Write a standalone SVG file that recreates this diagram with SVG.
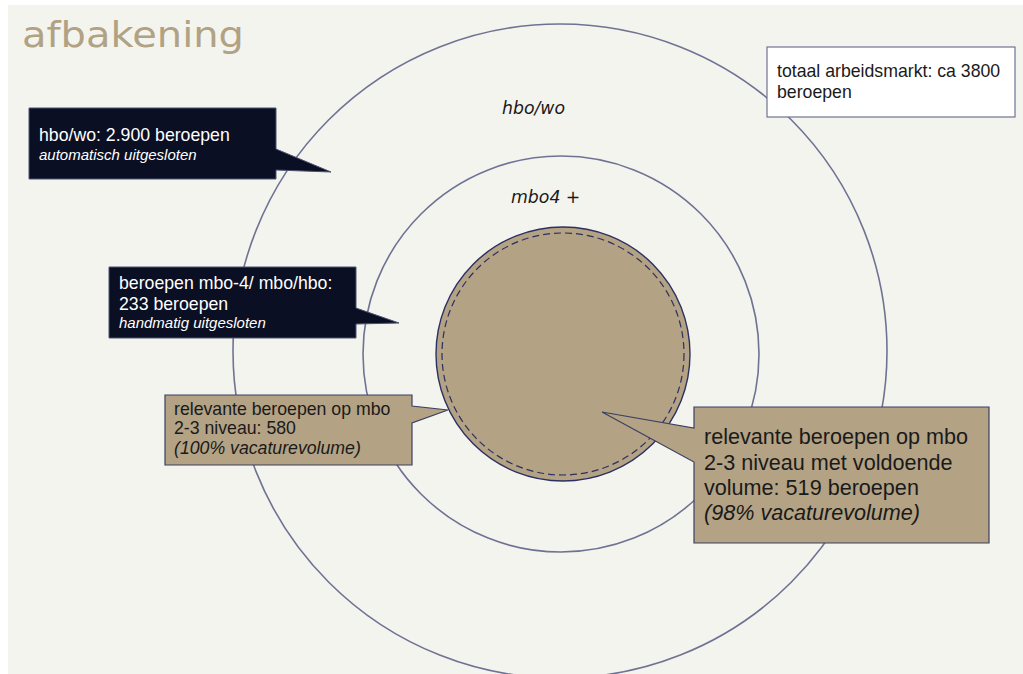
<svg xmlns="http://www.w3.org/2000/svg" width="1023" height="674" viewBox="0 0 1023 674">
  <style>
    .ring { fill: none; stroke: #6f7393; stroke-width: 1.6; }
    .dark { fill: #0b0f24; stroke: #4c5272; stroke-width: 1; }
    .tan { fill: #b3a284; stroke: #3b3f62; stroke-width: 1.2; }
    .note { fill: #ffffff; stroke: #6f7393; stroke-width: 1.2; }
    .t { font-family: "Liberation Sans", Arial, sans-serif; font-size: 17.7px; }
    .sm { font-size: 15px; }
    .lg { font-size: 21.6px; }
    .w { fill: #ffffff; }
    .k { fill: #1a1a1a; }
    .i { font-style: italic; }
    .ring-label { font-family: "DejaVu Sans", Verdana, sans-serif; font-style: italic; font-size: 17.3px; fill: #1a1a1a; }
  </style>

  <!-- page -->
  <rect x="0" y="0" width="1023" height="674" fill="#ffffff"/>
  <rect x="8" y="5" width="1015" height="669" fill="#f4f4ef"/>

  <!-- title -->
  <text x="22" y="47" font-family="'DejaVu Sans', Verdana, sans-serif" font-size="36" fill="#b1a283" textLength="222" lengthAdjust="spacingAndGlyphs">afbakening</text>

  <!-- scope rings -->
  <g id="ring-total">
    <circle class="ring" cx="560" cy="351" r="327"/>
  </g>
  <g id="ring-mbo4">
    <circle class="ring" cx="561" cy="354" r="198"/>
  </g>
  <g id="core">
    <circle cx="563" cy="354" r="127" fill="#b3a284" stroke="#2c3060" stroke-width="1.4"/>
    <circle cx="563" cy="354" r="121" fill="none" stroke="#2c3060" stroke-width="1.2" stroke-dasharray="7 4"/>
  </g>

  <!-- ring labels -->
  <g id="label-hbo">
    <text class="ring-label" x="502" y="114">hbo/wo</text>
  </g>
  <g id="label-mbo4">
    <text class="ring-label" x="511" y="203">mbo4 +</text>
  </g>

  <!-- callouts (box with pointer) -->
  <g id="connectors">
    <g id="callout-hbo">
      <path class="dark" d="M29,108 H276 V149 L331,172 L276,170 V179 H29 Z"/>
      <text class="t w" x="39" y="141">hbo/wo: 2.900 beroepen</text>
      <text class="t sm w i" x="39" y="160">automatisch uitgesloten</text>
    </g>

    <g id="callout-mbo4">
      <path class="dark" d="M109,267 H356 V308 L399,323 L356,324 V338 H109 Z"/>
      <text class="t w" x="119" y="289">beroepen mbo-4/ mbo/hbo:</text>
      <text class="t w" x="119" y="310">233 beroepen</text>
      <text class="t sm w i" x="119" y="328">handmatig uitgesloten</text>
    </g>

    <g id="callout-relevant">
      <path class="tan" d="M165,395 H412 V406 L448,410 L412,423 V465 H165 Z"/>
      <text class="t k" x="174" y="415">relevante beroepen op mbo</text>
      <text class="t k" x="174" y="434">2-3 niveau: 580</text>
      <text class="t k i" x="174" y="454">(100% vacaturevolume)</text>
    </g>

    <g id="callout-volume">
      <path class="tan" d="M694,407 H989 V543 H694 V462 L602,412 L694,428 Z"/>
      <text class="t lg k" x="704" y="444">relevante beroepen op mbo</text>
      <text class="t lg k" x="704" y="470">2-3 niveau met voldoende</text>
      <text class="t lg k" x="704" y="495">volume: 519 beroepen</text>
      <text class="t lg k i" x="704" y="520">(98% vacaturevolume)</text>
    </g>
  </g>

  <!-- total note -->
  <g id="note-total">
    <rect class="note" x="767" y="47" width="248" height="70"/>
    <text class="t k" x="777" y="77">totaal arbeidsmarkt: ca 3800</text>
    <text class="t k" x="777" y="98">beroepen</text>
  </g>
</svg>
